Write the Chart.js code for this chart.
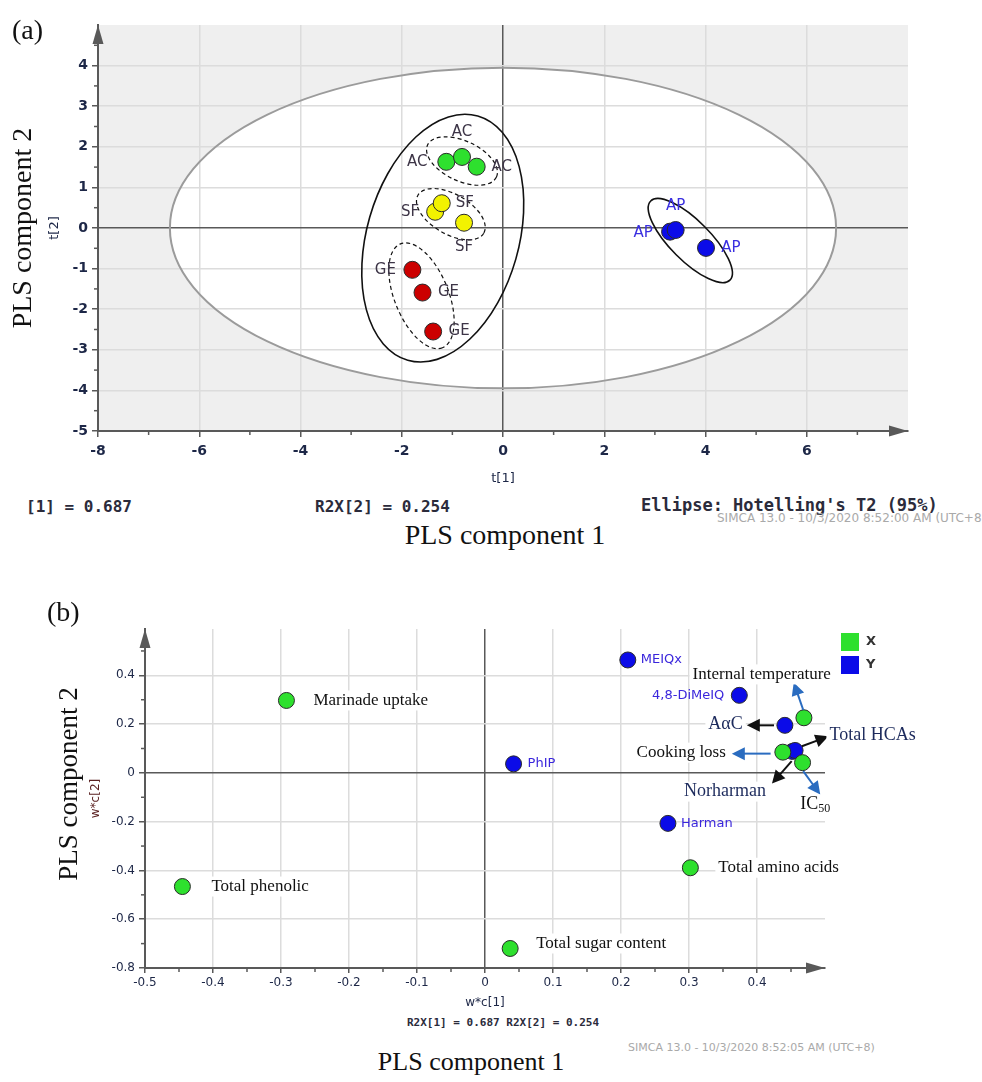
<!DOCTYPE html>
<html>
<head>
<meta charset="utf-8">
<script src="https://cdn.jsdelivr.net/npm/chart.js@4.4.1/dist/chart.umd.min.js"></script>
<style>
  html, body { margin: 0; padding: 0; background: #fff; }
  body { width: 982px; height: 1082px; position: relative; overflow: hidden; }
  canvas { position: absolute; left: 0; }
  .t { position: absolute; white-space: nowrap; line-height: 1; }
  .serif { font-family: 'Liberation Serif', 'Times New Roman', serif; color: #111; }
  .mono { font-family: 'DejaVu Sans Mono', monospace; font-weight: bold; color: #2b2b3b; }
  .simca { font-family: 'DejaVu Sans', sans-serif; color: #a9a9a9; }
  .c { transform: translate(-50%, -50%); }
  .l { transform: translate(0, -50%); }
  .v { transform: translate(-50%, -50%) rotate(-90deg); }
</style>
</head>
<body>
<canvas id="scores" width="982" height="490" style="top:0"></canvas>
<canvas id="loadings" width="982" height="455" style="top:560px"></canvas>

<div class="t serif l" style="left:12px;top:30px;font-size:28px">(a)</div>
<div class="t serif v" style="left:22px;top:228px;font-size:28px">PLS component 2</div>
<div class="t mono l" style="left:26px;top:507px;font-size:16px">[1] = 0.687</div>
<div class="t mono l" style="left:315px;top:507px;font-size:16px">R2X[2] = 0.254</div>
<div class="t mono l" style="left:641px;top:505px;font-size:17px">Ellipse: Hotelling's T2 (95%)</div>
<div class="t simca l" style="left:717px;top:518px;font-size:12px">SIMCA 13.0 - 10/3/2020 8:52:00 AM (UTC+8)</div>
<div class="t serif c" style="left:505px;top:535px;font-size:28px">PLS component 1</div>

<div class="t serif l" style="left:47px;top:612px;font-size:28px">(b)</div>
<div class="t serif v" style="left:68px;top:784px;font-size:27px">PLS component 2</div>
<div class="t mono l" style="left:407px;top:1022px;font-size:11px">R2X[1] = 0.687 R2X[2] = 0.254</div>
<div class="t simca l" style="left:628px;top:1047px;font-size:11px">SIMCA 13.0 - 10/3/2020 8:52:05 AM (UTC+8)</div>
<div class="t serif c" style="left:471px;top:1062px;font-size:26px">PLS component 1</div>

<script>
// ---- (a) PLS scores, t[1] / t[2] ----
const acT1 = [-1.12, -0.81, -0.52];
const acT2 = [1.63, 1.75, 1.51];
const sfT1 = [-1.34, -1.21, -0.77];
const sfT2 = [0.40, 0.61, 0.13];
const geT1 = [-1.79, -1.59, -1.38];
const geT2 = [-1.03, -1.59, -2.55];
const apT1 = [3.30, 3.41, 4.01];
const apT2 = [-0.09, -0.05, -0.49];
const hotelling = [6.58, 3.95]; // 95% ellipse semi-axes (t units)

// ---- (b) PLS loadings, w*c[1] / w*c[2] ----
const xVars = ['Marinade uptake', 'Total phenolic', 'Total sugar content', 'Total amino acids',
               'Internal temperature', 'Cooking loss', 'IC50'];
const xW1 = [-0.292, -0.445, 0.037, 0.302, 0.469, 0.438, 0.467];
const xW2 = [0.297, -0.466, -0.720, -0.389, 0.226, 0.085, 0.042];
const yVars = ['MEIQx', '4,8-DiMeIQ', 'PhIP', 'Harman', 'AαC', 'Norharman', 'Total HCAs'];
const yW1 = [0.210, 0.374, 0.042, 0.269, 0.441, 0.452, 0.456];
const yW2 = [0.463, 0.318, 0.037, -0.207, 0.195, 0.088, 0.092];

const SANS = "'DejaVu Sans', sans-serif";
const SERIF = "'Liberation Serif', 'Times New Roman', serif";
const TICK = '#1d2747';
const GRID = '#dcdcdc';
const AXIS = '#595959';
const GREEN = '#2ee02e', BLUE = '#0b0be8';

const zip = (a, b) => a.map((v, i) => ({ x: v, y: b[i] }));

// label offsets (px) for the score points
const scoreLabels = {
  AC: { color: '#3d3547', pos: [[-29, 0], [0, -25], [25, 0]] },
  SF: { color: '#3d3547', pos: [[-25, 0], [23, 0], [0, 24]] },
  GE: { color: '#3d3547', pos: [[-27, 0], [26, 0], [26, 0]] },
  AP: { color: '#3a2fe0', pos: [[-27, 1], [0, -24], [25, 0]] }
};
// hand-drawn group rings: centre in t units, radii px, rotation deg
const rings = [
  { c: [-1.19, -0.25], rx: 127, ry: 76, rot: -74, dash: [] },
  { c: [-0.81, 1.65], rx: 38, ry: 20, rot: 25, dash: [4, 3] },
  { c: [-1.03, 0.34], rx: 38, ry: 20, rot: 30, dash: [4, 3] },
  { c: [-1.61, -1.67], rx: 56, ry: 27, rot: 68, dash: [4, 3] },
  { c: [3.70, -0.31], rx: 56, ry: 20, rot: 45, dash: [] }
];

function drawArrowHead(ctx, x1, y1, x2, y2, len, half, color) {
  const a = Math.atan2(y2 - y1, x2 - x1);
  ctx.save();
  ctx.fillStyle = color;
  ctx.beginPath();
  ctx.moveTo(x2, y2);
  ctx.lineTo(x2 - len * Math.cos(a) + half * Math.sin(a), y2 - len * Math.sin(a) - half * Math.cos(a));
  ctx.lineTo(x2 - len * Math.cos(a) - half * Math.sin(a), y2 - len * Math.sin(a) + half * Math.cos(a));
  ctx.closePath();
  ctx.fill();
  ctx.restore();
}

function axisFrame(chart, minorX, minorY) {
  const { ctx, chartArea: a, scales: { x, y } } = chart;
  ctx.save();
  ctx.strokeStyle = AXIS;
  ctx.lineWidth = 1.5;
  minorX.forEach(v => {
    const px = x.getPixelForValue(v);
    ctx.beginPath(); ctx.moveTo(px, a.bottom); ctx.lineTo(px, a.bottom + 4); ctx.stroke();
  });
  minorY.forEach(v => {
    const py = y.getPixelForValue(v);
    ctx.beginPath(); ctx.moveTo(a.left, py); ctx.lineTo(a.left - 4, py); ctx.stroke();
  });
  ctx.restore();
  drawArrowHead(ctx, a.left, a.top + 30, a.left, a.top, 19, 5.5, AXIS);
  drawArrowHead(ctx, a.right - 30, a.bottom, a.right, a.bottom, 19, 5.5, AXIS);
}

function steps(from, to, step) {
  const out = [];
  for (let v = from; v <= to + 1e-9; v += step) out.push(Math.round(v * 1000) / 1000);
  return out;
}

const scoresDecor = {
  id: 'scoresDecor',
  beforeDraw(chart) {
    const { ctx, chartArea: a, scales: { x, y } } = chart;
    ctx.save();
    ctx.fillStyle = '#efefef';
    ctx.fillRect(a.left, a.top, a.right - a.left, a.bottom - a.top);
    const cx = x.getPixelForValue(0), cy = y.getPixelForValue(0);
    ctx.fillStyle = '#ffffff';
    ctx.beginPath();
    ctx.ellipse(cx, cy, x.getPixelForValue(hotelling[0]) - cx, cy - y.getPixelForValue(hotelling[1]), 0, 0, Math.PI * 2);
    ctx.fill();
    ctx.restore();
  },
  beforeDatasetsDraw(chart) {
    const { ctx, scales: { x, y } } = chart;
    const cx = x.getPixelForValue(0), cy = y.getPixelForValue(0);
    ctx.save();
    ctx.strokeStyle = '#9b9b9b';
    ctx.lineWidth = 2;
    ctx.beginPath();
    ctx.ellipse(cx, cy, x.getPixelForValue(hotelling[0]) - cx, cy - y.getPixelForValue(hotelling[1]), 0, 0, Math.PI * 2);
    ctx.stroke();
    ctx.strokeStyle = '#111';
    rings.forEach(r => {
      ctx.lineWidth = r.dash.length ? 1.2 : 1.6;
      ctx.setLineDash(r.dash);
      ctx.beginPath();
      ctx.ellipse(x.getPixelForValue(r.c[0]), y.getPixelForValue(r.c[1]), r.rx, r.ry, r.rot * Math.PI / 180, 0, Math.PI * 2);
      ctx.stroke();
    });
    ctx.restore();
  },
  afterDatasetsDraw(chart) {
    const { ctx } = chart;
    ctx.save();
    ctx.font = '15px ' + SANS;
    ctx.textAlign = 'center';
    ctx.textBaseline = 'middle';
    chart.data.datasets.forEach((ds, i) => {
      const cfg = scoreLabels[ds.label];
      ctx.fillStyle = cfg.color;
      chart.getDatasetMeta(i).data.forEach((pt, j) => {
        ctx.fillText(ds.label, pt.x + cfg.pos[j][0], pt.y + cfg.pos[j][1]);
      });
    });
    ctx.restore();
  },
  afterDraw(chart) {
    axisFrame(chart, steps(-7, 7, 2), steps(-4.5, 4.5, 1));
  }
};

new Chart(document.getElementById('scores'), {
  type: 'scatter',
  data: {
    datasets: [
      { label: 'AC', data: zip(acT1, acT2), backgroundColor: GREEN },
      { label: 'SF', data: zip(sfT1, sfT2), backgroundColor: '#f2f200' },
      { label: 'GE', data: zip(geT1, geT2), backgroundColor: '#cc0000' },
      { label: 'AP', data: zip(apT1, apT2), backgroundColor: BLUE }
    ]
  },
  options: {
    responsive: false,
    animation: false,
    layout: { padding: { left: 0, top: 25, right: 74, bottom: 0 } },
    elements: { point: { radius: 8.5, borderColor: '#2a2a2a', borderWidth: 1 } },
    plugins: { legend: { display: false }, tooltip: { enabled: false } },
    scales: {
      x: {
        type: 'linear', min: -8, max: 8,
        afterFit(s) { s.height = 59; },
        ticks: {
          stepSize: 2, includeBounds: false, autoSkip: false, maxRotation: 0, padding: 6,
          color: TICK, font: { family: SANS, size: 14, weight: 'bold' },
          callback: v => (v === 8 ? '' : String(v))
        },
        grid: {
          color: c => (c.tick.value === 0 ? AXIS : (Math.abs(c.tick.value) === 8 ? 'transparent' : GRID)),
          lineWidth: 1.5,
          tickColor: c => (c.tick.value === 8 ? 'transparent' : AXIS),
          tickLength: 6
        },
        border: { color: AXIS, width: 2 },
        title: { display: true, text: 't[1]', color: TICK, font: { family: SANS, size: 13 }, padding: { top: 0, bottom: 4 } }
      },
      y: {
        type: 'linear', min: -5, max: 5,
        afterFit(s) { s.width = 98; },
        ticks: {
          stepSize: 1, includeBounds: false, autoSkip: false, padding: 4,
          color: TICK, font: { family: SANS, size: 14, weight: 'bold' },
          callback: v => (v === 5 ? '' : String(v))
        },
        grid: {
          color: c => (c.tick.value === 0 ? AXIS : (Math.abs(c.tick.value) === 5 ? 'transparent' : GRID)),
          lineWidth: 1.5,
          tickColor: c => (c.tick.value === 5 ? 'transparent' : AXIS),
          tickLength: 6
        },
        border: { color: AXIS, width: 2 },
        title: { display: true, text: 't[2]', color: TICK, font: { family: SANS, size: 13 }, padding: { top: 47, bottom: 0 } }
      }
    }
  },
  plugins: [scoresDecor]
});

// ---- (b) labels and call-out arrows ----
const pointLabels = {
  'Marinade uptake': { dx: 27, dy: 0, align: 'left', serif: true },
  'Total phenolic': { dx: 29, dy: 0, align: 'left', serif: true },
  'Total sugar content': { dx: 26, dy: -5, align: 'left', serif: true },
  'Total amino acids': { dx: 28, dy: 0, align: 'left', serif: true },
  'MEIQx': { dx: 13, dy: 0, align: 'left' },
  '4,8-DiMeIQ': { dx: -15, dy: 0, align: 'right' },
  'PhIP': { dx: 14, dy: 0, align: 'left' },
  'Harman': { dx: 13, dy: 0, align: 'left' }
};
const callouts = [
  { text: 'Internal temperature', from: [0.468, 0.258], to: [0.454, 0.371], arrow: '#2a6cc0', color: '#111', size: 17, dx: -32, dy: -8, align: 'center' },
  { text: 'Cooking loss', from: [0.420, 0.079], to: [0.363, 0.079], arrow: '#2a6cc0', color: '#111', size: 17, dx: -6, dy: -1, align: 'right' },
  { text: 'IC', sub: '50', from: [0.468, 0.007], to: [0.493, -0.089], arrow: '#2a6cc0', color: '#111', size: 18, dx: -20, dy: 10, align: 'left' },
  { text: 'AαC', from: [0.425, 0.195], to: [0.385, 0.195], arrow: '#111', color: '#1c2a5c', size: 18, dx: -4, dy: -1, align: 'right' },
  { text: 'Total HCAs', from: [0.466, 0.109], to: [0.505, 0.150], arrow: '#111', color: '#1c2a5c', size: 18, dx: 1, dy: -1, align: 'left' },
  { text: 'Norharman', from: [0.451, 0.048], to: [0.422, -0.044], arrow: '#111', color: '#1c2a5c', size: 18, dx: -6, dy: 8, align: 'right' }
];

function boxedText(ctx, text, x, y, align, bg) {
  ctx.textAlign = align;
  const w = ctx.measureText(text).width;
  if (bg) {
    const left = align === 'left' ? x : align === 'right' ? x - w : x - w / 2;
    ctx.fillStyle = '#ffffff';
    ctx.fillRect(left - 3, y - 10, w + 6, 20);
  }
}

const loadingsDecor = {
  id: 'loadingsDecor',
  afterDatasetsDraw(chart) {
    const { ctx, scales: { x, y } } = chart;
    ctx.save();
    ctx.textBaseline = 'middle';
    // arrows
    callouts.forEach(c => {
      const x1 = x.getPixelForValue(c.from[0]), y1 = y.getPixelForValue(c.from[1]);
      const x2 = x.getPixelForValue(c.to[0]), y2 = y.getPixelForValue(c.to[1]);
      const a = Math.atan2(y2 - y1, x2 - x1);
      ctx.strokeStyle = c.arrow;
      ctx.lineWidth = 2;
      ctx.beginPath();
      ctx.moveTo(x1, y1);
      ctx.lineTo(x2 - 10 * Math.cos(a), y2 - 10 * Math.sin(a));
      ctx.stroke();
      drawArrowHead(ctx, x1, y1, x2, y2, 13, 6.5, c.arrow);
      ctx.font = c.size + 'px ' + SERIF;
      const tx = x2 + c.dx, ty = y2 + c.dy;
      const full = c.sub ? c.text + c.sub : c.text;
      boxedText(ctx, full, tx, ty, c.align, true);
      ctx.fillStyle = c.color;
      ctx.textAlign = c.align;
      ctx.fillText(c.text, tx, ty);
      if (c.sub) {
        const w = ctx.measureText(c.text).width;
        ctx.font = '12px ' + SERIF;
        ctx.textAlign = 'left';
        ctx.fillText(c.sub, tx + w, ty + 4);
      }
    });
    // direct labels
    const groups = [[xVars, 0], [yVars, 1]];
    groups.forEach(([names, di]) => {
      chart.getDatasetMeta(di).data.forEach((pt, j) => {
        const cfg = pointLabels[names[j]];
        if (!cfg) return;
        const tx = pt.x + cfg.dx, ty = pt.y + cfg.dy;
        if (cfg.serif) {
          ctx.font = '17px ' + SERIF;
          boxedText(ctx, names[j], tx, ty, cfg.align, true);
          ctx.fillStyle = '#111';
        } else {
          ctx.font = '13px ' + SANS;
          ctx.fillStyle = '#3a26dc';
        }
        ctx.textAlign = cfg.align;
        ctx.fillText(names[j], tx, ty);
      });
    });
    ctx.restore();
  },
  afterDraw(chart) {
    const { ctx, chartArea: a } = chart;
    axisFrame(chart, steps(-0.45, 0.45, 0.1), steps(-0.7, 0.5, 0.2));
    // legend X / Y
    ctx.save();
    ctx.font = 'bold 13px ' + SANS;
    ctx.textBaseline = 'middle';
    ctx.textAlign = 'left';
    [['X', GREEN], ['Y', BLUE]].forEach(([t, col], i) => {
      const top = a.top + 4 + i * 23;
      ctx.fillStyle = col;
      ctx.fillRect(a.right + 16, top, 18, 18);
      ctx.fillStyle = '#333';
      ctx.fillText(t, a.right + 41, top + 9);
    });
    ctx.restore();
  }
};

new Chart(document.getElementById('loadings'), {
  type: 'scatter',
  data: {
    datasets: [
      { label: 'X', data: zip(xW1, xW2), backgroundColor: GREEN },
      { label: 'Y', data: zip(yW1, yW2), backgroundColor: BLUE }
    ]
  },
  options: {
    responsive: false,
    animation: false,
    layout: { padding: { left: 0, top: 69, right: 157, bottom: 0 } },
    elements: { point: { radius: 8, borderColor: '#2a2a2a', borderWidth: 1 } },
    plugins: { legend: { display: false }, tooltip: { enabled: false } },
    scales: {
      x: {
        type: 'linear', min: -0.5, max: 0.5,
        afterFit(s) { s.height = 47; },
        ticks: {
          stepSize: 0.1, includeBounds: false, autoSkip: false, maxRotation: 0, padding: 3,
          color: TICK, font: { family: SANS, size: 12 },
          callback: v => (v === 0.5 ? '' : String(v))
        },
        grid: {
          color: c => (c.tick.value === 0 ? AXIS : (Math.abs(c.tick.value) === 0.5 ? 'transparent' : GRID)),
          lineWidth: 1.5,
          tickColor: c => (c.tick.value === 0.5 ? 'transparent' : AXIS),
          tickLength: 5
        },
        border: { color: AXIS, width: 2 },
        title: { display: true, text: 'w*c[1]', color: TICK, font: { family: SANS, size: 12 }, padding: { top: 0, bottom: 5 } }
      },
      y: {
        type: 'linear', min: -0.8, max: 0.59,
        afterFit(s) { s.width = 145; },
        ticks: {
          stepSize: 0.2, includeBounds: false, autoSkip: false, padding: 4,
          color: TICK, font: { family: SANS, size: 12 },
          callback: v => String(v)
        },
        grid: {
          color: c => (c.tick.value === 0 ? AXIS : (c.tick.value === -0.8 ? 'transparent' : GRID)),
          lineWidth: 1.5,
          tickColor: AXIS,
          tickLength: 6
        },
        border: { color: AXIS, width: 2 },
        title: { display: true, text: 'w*c[2]', color: '#5a2020', font: { family: SANS, size: 12 }, padding: { top: 89, bottom: 0 } }
      }
    }
  },
  plugins: [loadingsDecor]
});
</script>
</body>
</html>
